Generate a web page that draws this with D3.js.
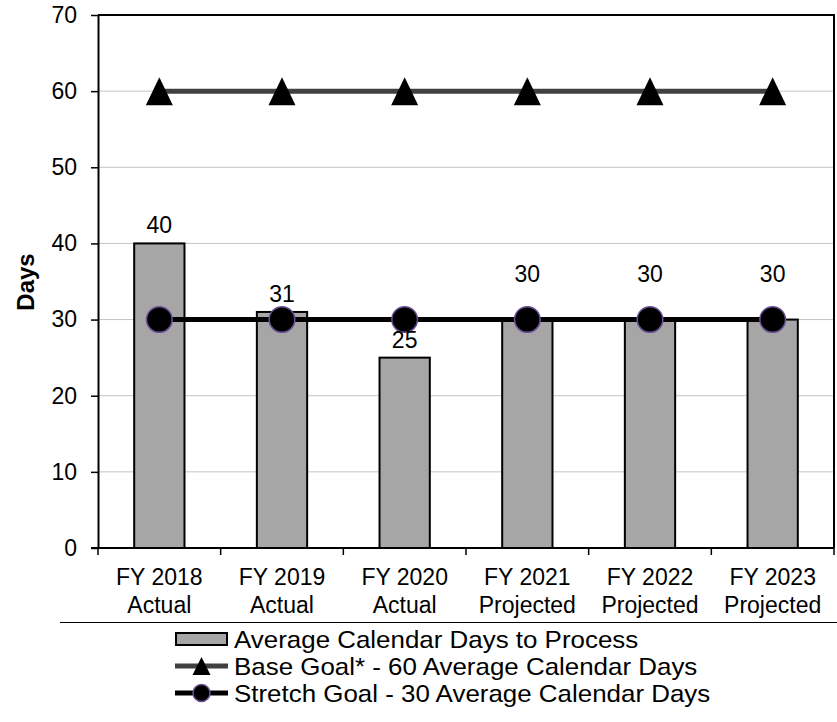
<!DOCTYPE html>
<html>
<head>
<meta charset="utf-8">
<script src="https://cdn.jsdelivr.net/npm/d3@7"></script>
<style>
  html, body { margin: 0; padding: 0; background: #fff; }
  svg { display: block; }
  text { font-family: Arial, "Liberation Sans", sans-serif; fill: #000; }
</style>
</head>
<body>
<svg id="chart" width="837" height="722"></svg>
<script>
// Fiscal years and their status
const years = ["FY 2018", "FY 2019", "FY 2020", "FY 2021", "FY 2022", "FY 2023"];
const statuses = ["Actual", "Actual", "Actual", "Projected", "Projected", "Projected"];
// Average calendar days to process
const avgDays = [40, 31, 25, 30, 30, 30];
// Goal series
const baseGoal = [60, 60, 60, 60, 60, 60];
const stretchGoal = [30, 30, 30, 30, 30, 30];
const yTicks = [0, 10, 20, 30, 40, 50, 60, 70];
const legendLabels = [
  "Average Calendar Days to Process",
  "Base Goal* - 60 Average Calendar Days",
  "Stretch Goal - 30 Average Calendar Days"
];

const svg = d3.select("#chart");
const plot = { left: 98, right: 834, top: 15, bottom: 548 };

const x = d3.scaleBand().domain(years).range([plot.left, plot.right]).padding(0);
const y = d3.scaleLinear().domain([0, 70]).range([plot.bottom, plot.top]);
const bw = x.bandwidth();
const barW = bw * 0.41;
const cx = i => x(years[i]) + bw / 2;

// gridlines
svg.append("g").selectAll("line")
  .data(yTicks.filter(t => t > 0 && t < 70))
  .join("line")
  .attr("x1", plot.left).attr("x2", plot.right)
  .attr("y1", d => y(d)).attr("y2", d => y(d))
  .attr("stroke", "#c4c4c4").attr("stroke-width", 1);

// bars
svg.append("g").selectAll("rect")
  .data(avgDays)
  .join("rect")
  .attr("x", (d, i) => cx(i) - barW / 2)
  .attr("width", barW)
  .attr("y", d => y(d))
  .attr("height", d => y(0) - y(d))
  .attr("fill", "#a6a6a6")
  .attr("stroke", "#000")
  .attr("stroke-width", 2);

// base goal line
const line = d3.line().x((d, i) => cx(i)).y(d => y(d));
svg.append("path").datum(baseGoal)
  .attr("d", line).attr("fill", "none")
  .attr("stroke", "#404040").attr("stroke-width", 5);

// stretch goal line
svg.append("path").datum(stretchGoal)
  .attr("d", line).attr("fill", "none")
  .attr("stroke", "#000").attr("stroke-width", 5);

// triangle markers
const tri = (w, h) => `M0,${-h / 2}L${w / 2},${h / 2}L${-w / 2},${h / 2}Z`;
svg.append("g").selectAll("path")
  .data(baseGoal)
  .join("path")
  .attr("transform", (d, i) => `translate(${cx(i)},${y(d)})`)
  .attr("d", tri(27, 28))
  .attr("fill", "#000");

// circle markers
svg.append("g").selectAll("circle")
  .data(stretchGoal)
  .join("circle")
  .attr("cx", (d, i) => cx(i))
  .attr("cy", d => y(d))
  .attr("r", 12.8)
  .attr("fill", "#000")
  .attr("stroke", "#6a4f96")
  .attr("stroke-width", 1.5);

// value labels: lifted above the marker when they share its value
svg.append("g").selectAll("text")
  .data(avgDays)
  .join("text")
  .attr("x", (d, i) => cx(i))
  .attr("y", (d, i) => d === stretchGoal[i] ? y(d) - 38 : y(d) - 10)
  .attr("text-anchor", "middle")
  .attr("font-size", 23)
  .text(d => d);

// frame: top and right borders
svg.append("path")
  .attr("d", `M${plot.left},${plot.top}H${plot.right}V${plot.bottom}`)
  .attr("fill", "none").attr("stroke", "#000").attr("stroke-width", 2);

// y axis
const yAxis = svg.append("g")
  .attr("transform", `translate(${plot.left},0)`)
  .call(d3.axisLeft(y).tickValues(yTicks).tickSize(7).tickPadding(14).tickSizeOuter(0));
yAxis.select(".domain").attr("stroke", "#000").attr("stroke-width", 2);
yAxis.selectAll(".tick line").attr("stroke", "#000").attr("stroke-width", 1.5);
yAxis.selectAll(".tick text")
  .attr("font-size", 23)
  .attr("font-family", "Arial, 'Liberation Sans', sans-serif")
  .attr("fill", "#000");

// x axis baseline and boundary ticks
svg.append("line")
  .attr("x1", plot.left - 7).attr("x2", plot.right)
  .attr("y1", plot.bottom).attr("y2", plot.bottom)
  .attr("stroke", "#000").attr("stroke-width", 2);
const bounds = years.map(c => x(c)).concat([x.range()[1]]);
svg.append("g").selectAll("line")
  .data(bounds)
  .join("line")
  .attr("x1", d => d).attr("x2", d => d)
  .attr("y1", plot.bottom).attr("y2", plot.bottom + 7)
  .attr("stroke", "#000").attr("stroke-width", 1.5);

// x labels, two lines each
const xl = svg.append("g").selectAll("text")
  .data(years)
  .join("text")
  .attr("text-anchor", "middle")
  .attr("font-size", 23);
xl.append("tspan").attr("x", (d, i) => cx(i)).attr("y", 585).text(d => d);
xl.append("tspan").attr("x", (d, i) => cx(i)).attr("y", 613).text((d, i) => statuses[i]);

// y axis title
svg.append("text")
  .attr("transform", `translate(34,282) rotate(-90)`)
  .attr("text-anchor", "middle")
  .attr("font-size", 24)
  .attr("font-weight", "bold")
  .text("Days");

// legend
svg.append("line")
  .attr("x1", 60).attr("x2", 837)
  .attr("y1", 622.5).attr("y2", 622.5)
  .attr("stroke", "#000").attr("stroke-width", 1);

const lg = svg.append("g");
const rowY = [639, 666, 693];
const symX0 = 175, symX1 = 228, textX = 234;

lg.append("rect")
  .attr("x", symX0 + 1).attr("y", rowY[0] - 6)
  .attr("width", symX1 - symX0 - 2).attr("height", 12)
  .attr("fill", "#a6a6a6").attr("stroke", "#000").attr("stroke-width", 2);

lg.append("line")
  .attr("x1", symX0).attr("x2", symX1)
  .attr("y1", rowY[1]).attr("y2", rowY[1])
  .attr("stroke", "#404040").attr("stroke-width", 5);
lg.append("path")
  .attr("transform", `translate(${(symX0 + symX1) / 2},${rowY[1]})`)
  .attr("d", tri(18, 18)).attr("fill", "#000");

lg.append("line")
  .attr("x1", symX0).attr("x2", symX1)
  .attr("y1", rowY[2]).attr("y2", rowY[2])
  .attr("stroke", "#000").attr("stroke-width", 5);
lg.append("circle")
  .attr("cx", (symX0 + symX1) / 2).attr("cy", rowY[2]).attr("r", 8.5)
  .attr("fill", "#000").attr("stroke", "#6a4f96").attr("stroke-width", 1.5);

// legend text is slightly wide-set
lg.selectAll("text.lab")
  .data(legendLabels)
  .join("text")
  .attr("class", "lab")
  .attr("transform", (d, i) => `translate(${textX},${rowY[i] + 9}) scale(1.08,1)`)
  .attr("font-size", 24)
  .text(d => d);
</script>
</body>
</html>
